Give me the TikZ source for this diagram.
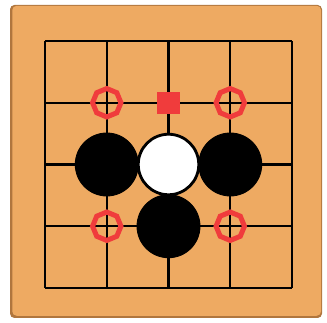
\documentclass[tikz,border=0pt]{standalone}
\usepackage{tikz}
\usepackage{xcolor}
\usetikzlibrary{shapes.geometric}
\definecolor{boardtan}{RGB}{238,170,98}
\definecolor{boardedge}{RGB}{176,118,62}
\definecolor{markred}{RGB}{240,60,60}

\begin{document}
\begin{tikzpicture}[
    blackstone/.style={circle,draw=black,fill=black,minimum size=1.02cm,inner sep=0pt},
    whitestone/.style={circle,draw=black,line width=1.3pt,fill=white,minimum size=0.98cm,inner sep=0pt},
    ringmark/.style={regular polygon,regular polygon sides=8,shape border rotate=22.5,
      draw=markred,line width=2.3pt,minimum size=0.46cm,inner sep=0pt},
    squaremark/.style={rectangle,fill=markred,minimum size=0.36cm,inner sep=0pt}
  ]
    \useasboundingbox (-0.729,-0.567) rectangle (4.567,4.664);
    % board
    \fill[boardedge,rounded corners=2pt] (-0.567,-0.486) rectangle (4.486,4.583);
    \fill[boardtan,rounded corners=2pt] (-0.53,-0.45) rectangle (4.47,4.57);

    % grid
    \foreach \i in {0,...,4} {
      \draw[line width=1.1pt] (\i,0) -- (\i,4);
      \draw[line width=1.1pt] (0,\i) -- (4,\i);
    }

    % markers
    \node[ringmark] (ringnw) at (1,3) {};
    \node[ringmark] (ringne) at (3,3) {};
    \node[ringmark] (ringsw) at (1,1) {};
    \node[ringmark] (ringse) at (3,1) {};
    \node[squaremark] (lastmove) at (2,3) {};

    % stones
    \node[blackstone] (bleft) at (1,2) {};
    \node[blackstone] (bright) at (3,2) {};
    \node[blackstone] (bdown) at (2,1) {};
    \node[whitestone] (wcentre) at (2,2) {};
  \end{tikzpicture}
\end{document}
